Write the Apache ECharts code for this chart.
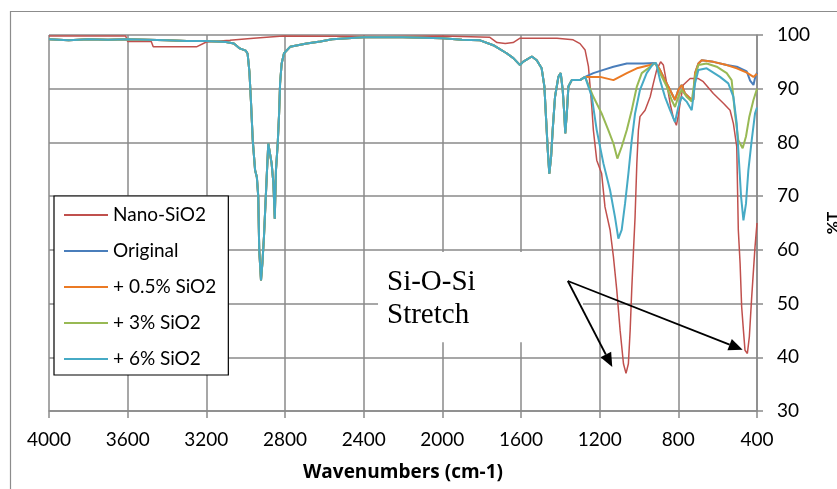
<!DOCTYPE html>
<html>
<head>
<meta charset="utf-8">
<script src="https://cdn.jsdelivr.net/npm/echarts@6/dist/echarts.min.js"></script>
<style>
  html, body { margin: 0; padding: 0; background: #fff; }
  #chart { width: 837px; height: 489px; }
</style>
</head>
<body>
<div id="chart"></div>
<script>
// axis range (wavenumbers shown high -> low)
const wnMin = 400, wnMax = 4000, wnStep = 400;
const tMin = 30, tMax = 100, tStep = 10;

// the four film spectra overlap from 4000 down to ~1300 cm-1
const baseWn = [4000, 3900, 3800, 3700, 3600, 3500, 3400, 3300, 3200, 3100, 3060, 3030, 3000, 2990, 2981, 2973, 2964, 2952, 2943, 2936, 2931, 2922, 2915, 2907, 2900, 2893, 2885, 2876, 2868, 2859, 2852, 2846, 2837, 2830, 2825, 2817, 2805, 2774, 2690, 2620, 2560, 2400, 2200, 2000, 1900, 1808, 1741, 1673, 1639, 1605, 1590, 1545, 1520, 1495, 1481, 1473, 1464, 1456, 1447, 1439, 1427, 1410, 1398, 1388, 1380, 1375, 1367, 1359, 1342, 1300];
const baseT = [99.2, 99.0, 99.2, 99.1, 99.2, 99.1, 99.0, 98.9, 98.9, 98.7, 98.4, 97.5, 97.1, 96.5, 93.2, 87.6, 80.4, 74.8, 73.5, 69.9, 59.9, 54.3, 57.5, 62.4, 68.0, 73.6, 79.8, 80.1, 76.1, 72.4, 65.8, 74.8, 79.8, 85.4, 91.0, 94.7, 96.6, 97.8, 98.4, 98.8, 99.2, 99.6, 99.6, 99.4, 99.1, 99.0, 98.1, 96.6, 95.7, 94.4, 95.0, 96.0, 95.3, 93.8, 90.4, 84.8, 78.6, 74.2, 77.3, 82.3, 88.5, 92.2, 92.9, 89.8, 85.4, 81.7, 85.4, 90.4, 91.6, 91.6];

// fingerprint region, 1274 -> 400 cm-1
const origWn = [1274, 1232, 1181, 1130, 1062, 978, 918, 893, 868, 851, 825, 817, 800, 783, 766, 740, 724, 715, 698, 681, 622, 554, 503, 452, 435, 418, 410, 400];
const origT = [92.2, 92.9, 93.5, 94.1, 94.7, 94.7, 94.8, 93.5, 91.6, 90.4, 88.5, 87.9, 89.8, 90.7, 89.1, 88.2, 87.9, 92.9, 94.7, 95.3, 95.0, 94.4, 94.1, 93.2, 91.5, 90.7, 92.0, 93.0];

const p05Wn = [1274, 1198, 1130, 1062, 1011, 943, 918, 893, 868, 851, 825, 817, 800, 783, 766, 740, 724, 715, 698, 681, 622, 554, 503, 452, 418, 400];
const p05T = [92.2, 92.2, 91.6, 92.9, 93.8, 94.4, 94.8, 93.5, 91.6, 90.4, 88.5, 87.9, 89.8, 90.7, 89.1, 88.2, 87.9, 92.9, 94.7, 95.3, 95.0, 94.4, 93.8, 93.0, 92.2, 92.8];

const p3Wn = [1274, 1232, 1190, 1156, 1130, 1110, 1088, 1062, 1037, 1011, 986, 943, 918, 893, 859, 834, 817, 800, 783, 758, 732, 715, 698, 656, 605, 554, 529, 512, 495, 473, 456, 439, 418, 400];
const p3T = [92.2, 88.5, 85.4, 82.3, 79.8, 77.0, 79.2, 82.3, 86.0, 90.4, 92.9, 94.1, 94.8, 92.9, 90.4, 87.9, 86.6, 88.5, 89.8, 88.5, 87.6, 92.2, 94.4, 94.7, 94.1, 92.9, 91.6, 85.4, 80.4, 78.9, 81.1, 84.8, 87.9, 90.0];

const p6Wn = [1274, 1240, 1215, 1181, 1147, 1122, 1105, 1088, 1071, 1054, 1037, 1020, 995, 961, 927, 913, 893, 868, 842, 817, 800, 783, 758, 732, 715, 698, 656, 588, 546, 520, 503, 491, 481, 469, 456, 444, 427, 410, 400];
const p6T = [92.2, 88.5, 82.3, 76.1, 71.1, 66.1, 62.1, 63.7, 68.6, 74.2, 80.4, 85.4, 89.8, 92.9, 94.7, 94.8, 91.6, 88.5, 86.0, 83.8, 86.6, 88.5, 87.6, 86.0, 91.0, 93.5, 93.8, 92.2, 91.0, 88.5, 83.5, 76.1, 69.9, 65.5, 68.6, 74.8, 80.4, 85.4, 86.5];

// nano silica powder, full range
const nanoWn = [4000, 3610, 3600, 3480, 3470, 3250, 3240, 3200, 3080, 2960, 2810, 2300, 2000, 1760, 1722, 1680, 1640, 1605, 1417, 1335, 1300, 1274, 1257, 1240, 1232, 1215, 1190, 1173, 1147, 1130, 1113, 1096, 1079, 1066, 1054, 1045, 1037, 1028, 1020, 1011, 1003, 995, 969, 943, 927, 910, 890, 876, 859, 842, 825, 810, 800, 791, 775, 740, 698, 673, 622, 571, 537, 520, 503, 495, 486, 478, 469, 461, 449, 439, 427, 410, 400];
const nanoT = [99.8, 99.8, 98.8, 98.8, 97.8, 97.8, 98.1, 98.7, 99.0, 99.4, 99.8, 99.7, 99.8, 99.6, 98.6, 98.4, 98.6, 99.4, 99.4, 99.1, 98.4, 97.2, 94.1, 86.6, 82.3, 76.7, 74.2, 68.0, 63.7, 58.7, 52.5, 45.0, 38.8, 37.0, 38.8, 45.0, 52.5, 59.9, 66.1, 76.1, 82.3, 84.8, 86.0, 88.5, 91.0, 93.5, 95.0, 94.4, 91.0, 87.3, 84.5, 83.2, 85.0, 87.3, 90.7, 91.9, 91.9, 91.3, 89.1, 87.3, 86.0, 83.5, 79.2, 63.7, 57.5, 49.4, 45.0, 41.3, 40.7, 43.8, 51.2, 60.6, 65.0];

const names = ['Nano-SiO2', 'Original', '+ 0.5% SiO2', '+ 3% SiO2', '+ 6% SiO2'];
const colors = ['#C0504D', '#4A7EBB', '#EB7A24', '#98B954', '#46AAC5'];

function pairs(wn, t) {
  return wn.map((w, i) => [w, t[i]]);
}

const seriesData = [
  pairs(nanoWn, nanoT),
  pairs(baseWn.concat(origWn), baseT.concat(origT)),
  pairs(baseWn.concat(p05Wn), baseT.concat(p05T)),
  pairs(baseWn.concat(p3Wn), baseT.concat(p3T)),
  pairs(baseWn.concat(p6Wn), baseT.concat(p6T)),
];

const labelFont = 'Lato, "Open Sans", sans-serif';

const myChart = echarts.init(document.getElementById('chart'));

myChart.setOption({
  animation: false,
  backgroundColor: '#fff',
  grid: { left: 49, right: 80, top: 35, bottom: 78, containLabel: false, outerBoundsMode: 'none' },
  legend: {
    orient: 'vertical',
    left: 54,
    top: 196,
    backgroundColor: '#fff',
    borderColor: '#000',
    borderWidth: 1.2,
    borderRadius: 0,
    padding: [9, 12, 6, 10],
    icon: 'rect',
    itemWidth: 44,
    itemHeight: 2,
    itemGap: 16,
    textStyle: { fontFamily: labelFont, fontSize: 19, color: '#000', lineHeight: 20 },
    data: names,
  },
  xAxis: {
    type: 'value',
    inverse: true,
    min: wnMin,
    max: wnMax,
    interval: wnStep,
    name: 'Wavenumbers (cm-1)',
    nameLocation: 'middle',
    nameGap: 52,
    nameTextStyle: { fontFamily: '"Open Sans", Lato, sans-serif', fontWeight: 'bold', fontSize: 19, color: '#000' },
    axisLine: { show: true, lineStyle: { color: '#8a8a8a', width: 1.5 } },
    axisTick: { show: true, length: 7, lineStyle: { color: '#8a8a8a', width: 1.5 } },
    axisLabel: { margin: 19, fontFamily: labelFont, fontSize: 19, color: '#000', formatter: (v) => String(v) },
    splitLine: { show: true, lineStyle: { color: '#8a8a8a', width: 1.5 } },
  },
  yAxis: {
    type: 'value',
    position: 'right',
    min: tMin,
    max: tMax,
    interval: tStep,
    name: '%T',
    nameLocation: 'middle',
    nameRotate: 90,
    nameGap: 68,
    nameTextStyle: { fontFamily: labelFont, fontWeight: 'bold', fontSize: 16, color: '#000' },
    axisLine: { show: true, lineStyle: { color: '#8a8a8a', width: 1.5 } },
    axisTick: { show: true, inside: false, length: 6, lineStyle: { color: '#8a8a8a', width: 1.5 } },
    axisLabel: { margin: 20, fontFamily: labelFont, fontSize: 19, color: '#000' },
    splitLine: { show: true, lineStyle: { color: '#8a8a8a', width: 1.5 } },
  },
  series: names.map((n, i) => ({
    name: n,
    type: 'line',
    data: seriesData[i],
    symbol: 'none',
    showSymbol: false,
    sampling: null,
    lineStyle: { color: colors[i], width: i === 0 ? 1.5 : 2 },
    itemStyle: { color: colors[i] },
    z: 2 + i,
  })),
});

// annotation: text box and two arrows, anchored in data coordinates
function px(wn, t) {
  return myChart.convertToPixel({ gridIndex: 0 }, [wn, t]);
}

function arrow(from, to) {
  const dx = to[0] - from[0], dy = to[1] - from[1];
  const len = Math.sqrt(dx * dx + dy * dy);
  const ux = dx / len, uy = dy / len;
  const head = 14, half = 6;
  const bx = to[0] - ux * head, by = to[1] - uy * head;
  return [
    {
      type: 'line',
      shape: { x1: from[0], y1: from[1], x2: bx, y2: by },
      style: { stroke: '#000', lineWidth: 1.8 },
      z: 20,
    },
    {
      type: 'polygon',
      shape: { points: [to, [bx - uy * half, by + ux * half], [bx + uy * half, by - ux * half]] },
      style: { fill: '#000' },
      z: 20,
    },
  ];
}

const boxA = px(2327, 59.6);
const boxB = px(1285, 42.8);
const arrowFrom = px(1362, 54.2);
const tip1 = px(1136, 38.2);
const tip2 = px(473, 41.4);

myChart.setOption({
  graphic: [
    {
      type: 'rect',
      shape: { x: boxA[0], y: boxA[1], width: boxB[0] - boxA[0], height: boxB[1] - boxA[1] },
      style: { fill: '#fff' },
      z: 10,
    },
    {
      type: 'text',
      x: boxA[0] + 9,
      y: boxA[1] + 14,
      style: {
        text: 'Si-O-Si\nStretch',
        font: '29px "Liberation Serif", "Times New Roman", serif',
        lineHeight: 33,
        fill: '#000',
      },
      z: 11,
    },
    {
      type: 'rect',
      shape: { x: 10.5, y: 11.5, width: 900, height: 600 },
      style: { fill: null, stroke: '#8c8c8c', lineWidth: 1.2 },
      silent: true,
      z: 0,
    },
  ].concat(arrow(arrowFrom, tip1), arrow(arrowFrom, tip2)),
});

window.onresize = function () {
  myChart.resize();
};
</script>
</body>
</html>
